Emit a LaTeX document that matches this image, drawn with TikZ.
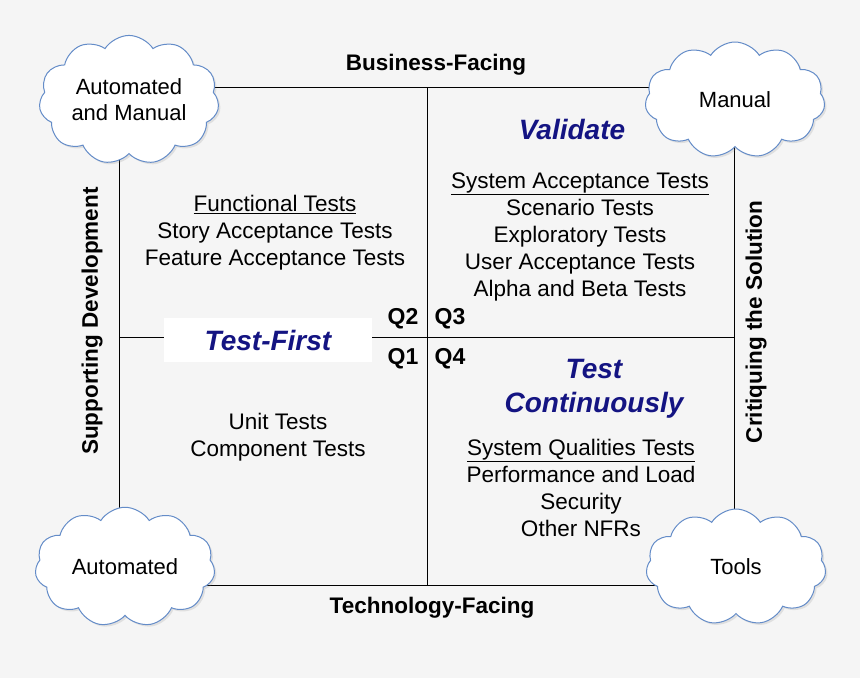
\documentclass[tikz,border=0pt]{standalone}
\usepackage{fontspec}
\setmainfont{Liberation Sans}
\usepackage{xcolor}
\definecolor{paper}{RGB}{245,245,245}
\definecolor{cloudblue}{RGB}{100,140,200}
\definecolor{navy}{RGB}{20,20,130}
\usetikzlibrary{positioning,shapes.symbols,shadows}

\begin{document}
\begin{tikzpicture}[x=1pt, y=-1pt, semithick]
    \tikzstyle{puff}=[cloud, cloud puffs=11, cloud puff arc=115, aspect=1.5, draw=cloudblue, fill=white, line width=1pt, minimum width=180, minimum height=116, inner sep=0pt, align=center, drop shadow={opacity=0.18, shadow xshift=2pt, shadow yshift=-2pt}, font=\fontsize{22}{26}\selectfont]
    \tikzstyle{axis label}=[font=\fontsize{22.5}{27}\selectfont\bfseries, anchor=base]
    \tikzstyle{quad}=[font=\fontsize{23}{27}\selectfont\bfseries, anchor=base]
    \tikzstyle{tests}=[font=\fontsize{22.5}{27}\selectfont, align=center]
    \tikzstyle{motto}=[font=\fontsize{28}{34}\selectfont\bfseries\itshape, text=navy, align=center]

    % Paper and frame
    \fill[paper] (0,0) rectangle (860,678);
    \useasboundingbox (0,0) rectangle (860,678);
    \coordinate (NW) at (119,87);
    \coordinate (SE) at (734,585);
    \coordinate (N) at (427,87);
    \coordinate (S) at (427,585);
    \coordinate (W) at (119,337);
    \coordinate (E) at (734,337);
    \draw (NW) rectangle (SE);
    \draw (N) -- (S);
    \draw (W) -- (E);

    % Axis labels
    \node[axis label] (biz) at (436,70) {Business-Facing};
    \node[axis label] (tech) at (432,613) {Technology-Facing};
    \node[axis label, anchor=center, rotate=90] (supp) at (92,321) {Supporting Development};
    \node[axis label, anchor=center, rotate=90] (crit) at (756,322) {Critiquing the Solution};

    % Clouds on the corners
    \node[puff] (cTL) at (129,100) {Automated\\and Manual};
    \node[puff] (cTR) at (735,100) {Manual};
    \node[puff] (cBL) at (125,567) {Automated};
    \node[puff] (cBR) at (736,567) {Tools};

    % Quadrant numbers
    \node[quad] (q2) at (403,324) {Q2};
    \node[quad] (q3) at (450,324) {Q3};
    \node[quad] (q1) at (403,364) {Q1};
    \node[quad] (q4) at (450,364) {Q4};

    % Mottos
    \node[motto, fill=white, minimum width=208, minimum height=44] (first) at (268,340) {Test-First};
    \node[motto] (valid) at (572,129) {Validate};
    \node[motto] (contin) at (594,389) {Test\\Continuously};

    % Tests per quadrant
    \node[tests] (t2) at (275,233) {\underline{Functional Tests}\\Story Acceptance Tests\\Feature Acceptance Tests};
    \node[tests] (t3) at (580,237) {\underline{System Acceptance Tests}\\Scenario Tests\\Exploratory Tests\\User Acceptance Tests\\Alpha and Beta Tests};
    \node[tests] (t1) at (278,437) {Unit Tests\\Component Tests};
    \node[tests] (t4) at (581,488) {\underline{System Qualities Tests}\\Performance and Load\\Security\\Other NFRs};
\end{tikzpicture}
\end{document}
